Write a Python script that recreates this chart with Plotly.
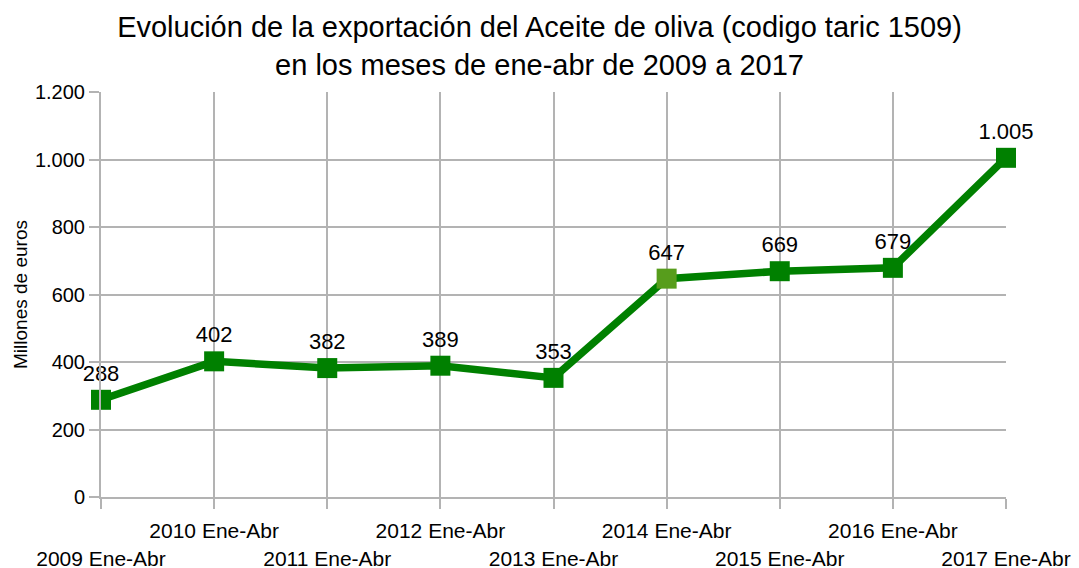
import plotly.graph_objects as go

# datos: exportación de aceite de oliva (millones de euros), ene-abr
years = [2009, 2010, 2011, 2012, 2013, 2014, 2015, 2016, 2017]
values = [288, 402, 382, 389, 353, 647, 669, 679, 1005]
labels = [f"{y} Ene-Abr" for y in years]
y_ticks = [0, 200, 400, 600, 800, 1000, 1200]

FONT = "Liberation Sans, Arial, sans-serif"
GREEN = "#008000"
LIGHT_GREEN = "#579d1c"
GRID = "#b3b3b3"

positions = list(range(len(years)))
# alternar filas de etiquetas (las pares abajo, las impares arriba)
ticktext = [lab if i % 2 else "<br>" + lab for i, lab in enumerate(labels)]
marker_colors = [LIGHT_GREEN if y == 2014 else GREEN for y in years]

fig = go.Figure()
fig.add_trace(go.Scatter(
    x=positions,
    y=values,
    mode="lines+markers+text",
    line=dict(color=GREEN, width=7.5),
    marker=dict(symbol="square", size=20, color=marker_colors),
    texttemplate="%{y:,}",
    textposition="top center",
    textfont=dict(size=22, color="black", family=FONT),
    cliponaxis=False,
    showlegend=False,
))

fig.update_layout(
    width=1079,
    height=568,
    paper_bgcolor="white",
    plot_bgcolor="white",
    separators=",.",
    font=dict(family=FONT, color="black"),
    margin=dict(l=101, r=73, t=92, b=71),
    title=dict(
        text="Evolución de la exportación del Aceite de oliva (codigo taric 1509)<br>en los meses de ene-abr de 2009 a 2017",
        x=0.5, xanchor="center", y=0.935, yanchor="top",
        font=dict(size=29, family=FONT, color="black"),
    ),
    xaxis=dict(
        range=[0, len(years) - 1],
        tickvals=positions,
        ticktext=ticktext,
        tickangle=0,
        ticks="outside",
        ticklen=10,
        tickcolor=GRID,
        tickwidth=2,
        ticklabelstandoff=4,
        showgrid=True,
        gridcolor=GRID,
        gridwidth=1.5,
        showline=True,
        linecolor=GRID,
        linewidth=2,
        zeroline=False,
        automargin=False,
        tickfont=dict(size=21),
    ),
    yaxis=dict(
        range=[0, 1200],
        tickvals=y_ticks,
        tickformat=",d",
        ticks="outside",
        ticklen=10,
        tickcolor=GRID,
        tickwidth=2,
        showgrid=True,
        gridcolor=GRID,
        gridwidth=1.5,
        showline=True,
        linecolor=GRID,
        linewidth=2,
        zeroline=False,
        automargin=False,
        tickfont=dict(size=20),
        title=dict(text="Millones de euros", font=dict(size=19), standoff=2),
    ),
)

# quitar el margen del body para que la figura ocupe la ventana completa
fig.write_html(
    "out.html",
    config={"displayModeBar": False},
    post_script="document.body.style.margin='0';",
)
